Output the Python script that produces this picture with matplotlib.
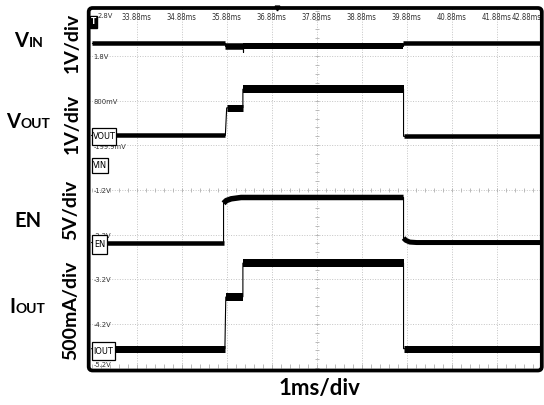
import matplotlib
matplotlib.use('Agg')
import matplotlib.pyplot as plt
import numpy as np
from matplotlib.patches import Rectangle, FancyBboxPatch
from matplotlib.transforms import IdentityTransform

# ---------------- data ----------------
time_ticks = [33.88, 34.88, 35.88, 36.88, 37.88, 38.88, 39.88, 40.88, 41.88, 42.88]
time_labels = ['33.88ms', '34.88ms', '35.88ms', '36.88ms', '37.88ms',
               '38.88ms', '39.88ms', '40.88ms', '41.88ms', '42.88ms']
volt_levels = [2.8, 1.8, 0.8, -0.2, -1.2, -2.2, -3.2, -4.2, -5.2]
volt_labels = ['2.8V', '1.8V', '800mV', '-199.9mV', '-1.2V', '-2.2V', '-3.2V', '-4.2V', '-5.2V']

vin_t = [32.88, 35.84, 35.84, 36.24, 36.24, 36.24, 39.80, 39.80, 42.88]
vin_v = [2.09, 2.09, 2.03, 2.03, 1.90, 2.02, 2.02, 2.09, 2.09]

vout_t = [32.88, 35.85, 35.88, 36.24, 36.24, 39.81, 39.81, 42.88]
vout_v = [0.02, 0.02, 0.64, 0.64, 1.06, 1.06, 0.00, 0.00]

en_t = [32.88, 35.81, 35.81, 35.87, 35.98, 36.20, 39.81, 39.81, 39.86, 39.95, 40.10, 42.88]
en_v = [-2.38, -2.38, -1.50, -1.44, -1.40, -1.37, -1.37, -2.28, -2.33, -2.37, -2.38, -2.38]

iout_t = [32.88, 35.84, 35.86, 36.24, 36.24, 39.81, 39.81, 42.88]
iout_v = [-4.76, -4.76, -3.60, -3.60, -2.84, -2.84, -4.76, -4.76]

channel_names = ['VOUT', 'VIN', 'EN', 'IOUT']

# ---------------- figure ----------------
W, H = 544, 405
fig = plt.figure(figsize=(W / 100, H / 100), dpi=100)
fig.patch.set_facecolor('white')

def fx(px):
    return px / W

def fy(py):
    return 1 - py / H

ax_l, ax_r, ax_t, ax_b = 88.5, 542.0, 8.0, 370.5
ax = fig.add_axes([fx(ax_l), fy(ax_b), (ax_r - ax_l) / W, (ax_b - ax_t) / H])
ax.set_xlim(32.809, 42.887)
ax.set_ylim(-5.249, 2.878)
ax.set_axis_off()

NARROW = ['Liberation Sans Narrow', 'DejaVu Sans']
grid_c = '#c4c4c4'
dots = (0, (1, 1.6))

# grid
for t in time_ticks[:-1]:
    ax.axvline(t, color=grid_c, lw=0.7, ls=dots, zorder=1)
for v in volt_levels[1:-1]:
    ax.axhline(v, color=grid_c, lw=0.7, ls=dots, zorder=1)

# minor ticks on centre lines and edges
tmin, tmax = time_ticks[0] - 1, time_ticks[-1]
vmin, vmax = volt_levels[-1], volt_levels[0]
mt = np.arange(tmin, tmax + 1e-6, 0.2)
mv = np.arange(vmin, vmax + 1e-6, 0.2)
for yy in [(vmin + vmax) / 2, vmin + 0.05]:
    ax.plot(mt, np.full_like(mt, yy), ls='none', marker='|', ms=3.2, mew=0.6,
            color='#b0b0b0', zorder=1)
ax.plot(np.full_like(mv, (tmin + tmax) / 2), mv, ls='none', marker='_', ms=3.2,
        mew=0.6, color='#b0b0b0', zorder=1)

# traces
def draw_trace(ts, vs, widths_px):
    ts = np.asarray(ts, float)
    vs = np.asarray(vs, float)
    ax.plot(ts, vs, color='black', lw=0.8, zorder=3, solid_joinstyle='miter')
    runs, cur = [], [0]
    for i in range(1, len(ts)):
        dt = ts[i] - ts[i - 1]
        dv = abs(vs[i] - vs[i - 1])
        edge = dt <= 1e-9 or dv / dt > 3
        if edge:
            runs.append(cur)
            cur = [i]
        else:
            cur.append(i)
    runs.append(cur)
    runs = [r for r in runs if len(r) >= 2]
    for r, w in zip(runs, widths_px):
        ax.plot(ts[r], vs[r], color='black', lw=w * 0.72, zorder=3,
                solid_capstyle='butt', solid_joinstyle='round')

draw_trace(vin_t, vin_v, [4.5, 6.5, 6.0, 4.5])
draw_trace(vout_t, vout_v, [4.5, 7, 8, 4.5])
draw_trace(en_t, en_v, [4.5, 5.5, 5.0])
draw_trace(iout_t, iout_v, [7, 8, 8, 7])

# on-screen text
for t, lab in zip(time_ticks, time_labels):
    ha = 'right' if t == time_ticks[-1] else 'center'
    ax.text(t, 2.675, lab, fontsize=5.5, family=NARROW, stretch='condensed',
            color='#333333', ha=ha, va='center', zorder=4)
for v, lab in zip(volt_levels, volt_labels):
    yy = min(max(v - 0.03, -5.12), 2.70)
    xx = 33.02 if v == volt_levels[0] else 32.92
    ax.text(xx, yy, lab, fontsize=5.4, family=NARROW, stretch='condensed',
            color='#333333', ha='left', va='center', zorder=4)

# trigger marker and top position marker
fig.text(fx(93.5), fy(22), 'T', fontsize=5.5, family=NARROW, color='white',
         ha='center', va='center', fontweight='bold', zorder=6,
         bbox=dict(boxstyle='square,pad=0.15', fc='black', ec='black'))
ax.plot([37.0], [2.878], marker='v', ms=3.5, color='black', zorder=5, clip_on=False)

# channel marker boxes (pixel positions)
boxes = [(92, 128, 24, 17), (92, 158, 16, 15), (92, 235, 15, 19), (92, 342, 23, 18)]
for name, (bx, by, bw, bh) in zip(channel_names, boxes):
    fig.add_artist(Rectangle((fx(bx), fy(by + bh)), bw / W, bh / H, transform=fig.transFigure,
                             fc='white', ec='black', lw=0.9, zorder=5))
    fig.text(fx(bx + bw / 2), fy(by + bh / 2), name, fontsize=6.6, family=NARROW,
             stretch='condensed', color='black', ha='center', va='center', zorder=6)

# frame with rounded corners
frame = FancyBboxPatch((ax_l + 0.2, H - ax_b), ax_r - ax_l - 0.4, ax_b - ax_t,
                       boxstyle='round,pad=0,rounding_size=4', transform=IdentityTransform(),
                       fc='none', ec='black', lw=2.7, zorder=7)
fig.add_artist(frame)

# left channel titles
renderer = fig.canvas.get_renderer()
LATO = ['Lato', 'DejaVu Sans']

def title(big, small, x_left, baseline, big_size=14.5, small_size=10.0):
    t1 = fig.text(fx(x_left), fy(baseline), big, fontsize=big_size, fontweight='bold',
                  family=LATO, ha='left', va='baseline')
    if small:
        bb = t1.get_window_extent(renderer)
        fig.text(bb.x1 / W + 0.5 / W, fy(baseline), small, fontsize=small_size,
                 fontweight='bold', family=LATO, ha='left', va='baseline')

title('V', 'IN', 14, 47)
title('V', 'OUT', 6, 128)
title('EN', '', 14, 227)
title('I', 'OUT', 9, 313)

for lab, (cx, cy) in zip(['1V/div', '1V/div', '5V/div', '500mA/div'],
                         [(72.5, 43), (72.5, 124), (71, 210), (71, 310)]):
    fig.text(fx(cx), fy(cy), lab, fontsize=14, fontweight='bold', family=LATO,
             rotation=90, ha='center', va='center')

fig.text(fx(319.5), fy(388), '1ms/div', fontsize=16, fontweight='bold', family=LATO,
         ha='center', va='center')

fig.savefig('out.png', dpi=100)
